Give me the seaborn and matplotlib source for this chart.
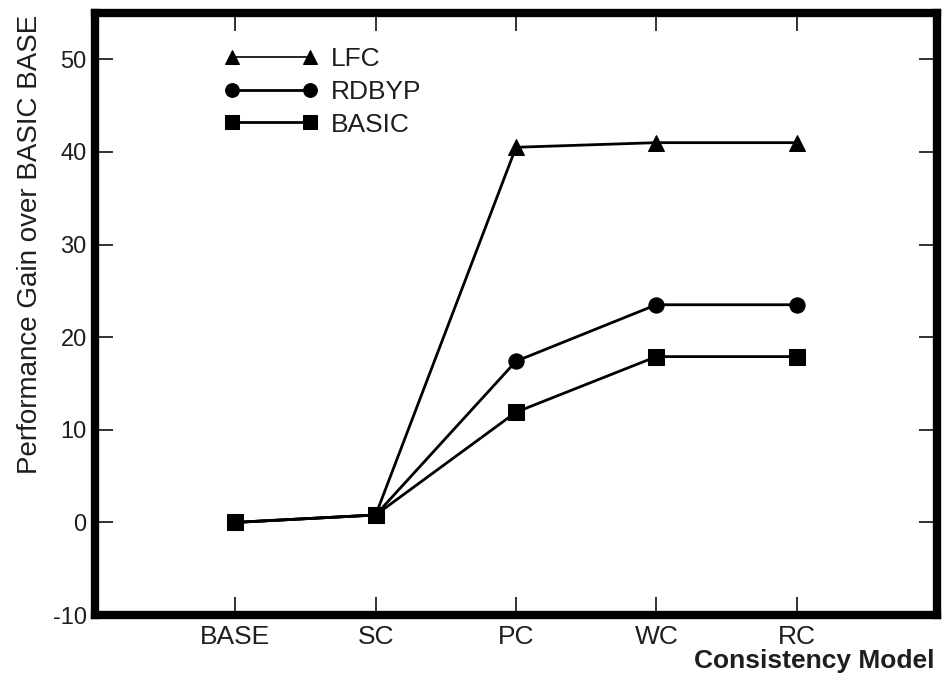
import pandas as pd
import seaborn as sns
import matplotlib.pyplot as plt

# values
models = ['BASE', 'SC', 'PC', 'WC', 'RC']
lfc = [0.0, 0.8, 40.5, 41.0, 41.0]
rdbyp = [0.0, 0.8, 17.4, 23.5, 23.5]
basic = [0.0, 0.8, 11.9, 17.9, 17.9]
series_names = ['LFC', 'RDBYP', 'BASIC']
y_ticks = [-10, 0, 10, 20, 30, 40, 50]

sns.set_theme(style='white')
plt.rcParams['font.family'] = ['Liberation Sans', 'DejaVu Sans']
plt.rcParams['axes.unicode_minus'] = False

rows = []
for name, vals in zip(series_names, [lfc, rdbyp, basic]):
    for m, v in zip(models, vals):
        rows.append({'model': m, 'gain': v, 'series': name})
df = pd.DataFrame(rows)

txt = '#1e1e1e'

fig = plt.figure(figsize=(9.51, 6.76), dpi=100)
ax = fig.add_axes([0.0999, 0.0902, 0.8854, 0.8906])

sns.lineplot(data=df, x='model', y='gain', style='series',
             style_order=series_names, markers={'LFC': '^', 'RDBYP': 'o', 'BASIC': 's'},
             dashes=False, color='black', linewidth=2, markersize=11,
             markeredgecolor='black', ax=ax)

ax.set_xlim(-1, 5)
ax.set_ylim(-10, 55)
ax.set_yticks(y_ticks)

for s in ax.spines.values():
    s.set_linewidth(6)
    s.set_color('black')

ax.tick_params(axis='both', which='both', direction='in', length=13, width=1.3,
               color='#222222', labelcolor=txt,
               top=True, right=True, bottom=True, left=True)
ax.tick_params(axis='y', labelsize=17, pad=6)
ax.tick_params(axis='x', labelsize=19, pad=7)

ax.set_ylabel('Performance Gain over BASIC BASE', fontsize=20, color=txt)
ax.yaxis.set_label_coords(-0.062, 0.615)
ax.set_xlabel('')
fig.text(0.983, 0.004, 'Consistency Model', ha='right', va='bottom',
         fontsize=19, fontweight='bold', color=txt)

handles, labels = ax.get_legend_handles_labels()
leg = ax.legend(handles, labels, loc='upper left', bbox_to_anchor=(0.138, 0.965),
                frameon=False, numpoints=2, handlelength=3.55, handletextpad=0.5,
                labelspacing=0.33, fontsize=19, borderpad=0, markerscale=0.9)
for t in leg.get_texts():
    t.set_color(txt)
leg.get_lines()[0].set_linewidth(1.2)

fig.savefig('out.png', dpi=100)
